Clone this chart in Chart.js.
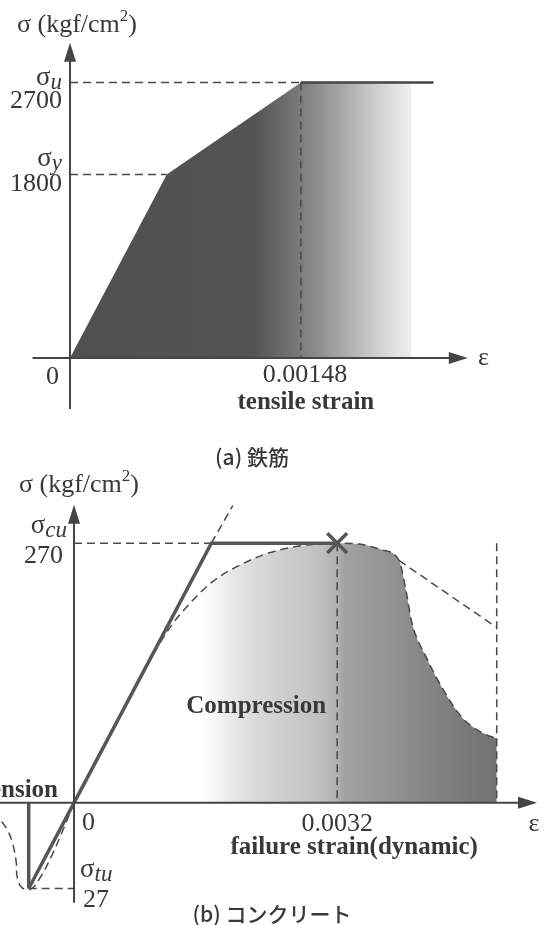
<!DOCTYPE html>
<html lang="ja">
<head>
<meta charset="utf-8">
<title>stress-strain</title>
<script src="https://cdn.jsdelivr.net/npm/chart.js@4.4.1/dist/chart.umd.min.js"></script>
<style>
  html, body { margin: 0; background: #fff; }
  .sheet { position: relative; width: 554px; height: 925px; overflow: hidden; }
  canvas { position: absolute; left: 0; }
  #steelChart { top: 0; }
  #concreteChart { top: 470px; }
</style>
</head>
<body>
<div class="sheet">
  <canvas id="steelChart" width="554" height="470"></canvas>
  <canvas id="concreteChart" width="554" height="455"></canvas>
</div>
<script>
// (a) 鉄筋
const steelStrain = [0, 0.00062, 0.00148, 0.00219];   // outline of shaded area
const steelStress = [0, 1800, 2700, 2700];
const steelPlateau = [0.00148, 0.00233];               // solid line at sigma_u
const steelYTicks = [2700, 1800];
const steelYSymbols = ['u', 'y'];
const steelXTick = 0.00148;

// (b) コンクリート
const concreteStrain = [0, 0.00167, 0.0032];           // bilinear model, compression side
const concreteStress = [0, 270, 270];
const dynamicStrain = [0, 0.000558, 0.000921, 0.001164, 0.001406, 0.001685, 0.002012, 0.002376, 0.002739, 0.0032,
  0.003467, 0.003745, 0.003952, 0.004036, 0.004109, 0.004279, 0.004473, 0.004715, 0.004958, 0.00514];
const dynamicStress = [0, 91, 148, 182, 207, 230, 247, 260, 267, 270,
  269, 263, 252, 221, 187, 152, 120, 89, 73, 67];
const softeningStrain = [0.003952, 0.005127];
const softeningStress = [252, 183];
const tangentStrain = [0.00167, 0.00193];
const tangentStress = [270, 309];
const failureStrain = 0.0032;
const limitStrain = 0.00514;
const tensionStrain = [0, -0.0000403, -0.0000809, -0.0001248, -0.0001579, -0.000191, -0.000209, -0.000213, -0.000228, -0.00025, -0.000279];
const tensionStress = [0, -8.5, -16.4, -23.6, -27.1, -26.8, -23.6, -18.6, -12.3, -7.9, -4.7];
const tensilePeakStrain = -0.000167;
const tensileStrength = 27;
const tensionScale = 3.3; // the figure draws the tension side enlarged

const SERIF = '"Liberation Serif", "Times New Roman", serif';
const CJK = '"Noto Sans CJK JP", sans-serif';
const INK = '#383838';
const AXIS = '#454545';
const DASH = '#4a4a4a';

const pts = (xs, ys, k = 1) => xs.map((x, i) => ({ x: x * k, y: ys[i] * k }));

function fontOf(p) {
  return `${p.italic ? 'italic ' : ''}${p.weight ? p.weight + ' ' : ''}${p.bold ? 'bold ' : ''}${p.size}px ${p.family || SERIF}`;
}

function drawText(c, x, y, parts, align = 'left') {
  if (typeof parts === 'string') parts = [{ t: parts, size: 26 }];
  c.save();
  c.fillStyle = INK;
  c.textBaseline = 'alphabetic';
  c.textAlign = 'left';
  let w = 0;
  parts.forEach(p => { c.font = fontOf(p); p.w = c.measureText(p.t).width; w += p.w; });
  let cx = align === 'right' ? x - w : align === 'center' ? x - w / 2 : x;
  parts.forEach(p => { c.font = fontOf(p); c.fillText(p.t, cx, y + (p.dy || 0)); cx += p.w; });
  c.restore();
}

const sigma = sub => [{ t: 'σ', size: 27 }, { t: sub, size: 23, italic: true, dy: 4 }];
const unitTitle = [{ t: 'σ (kgf/cm', size: 26 }, { t: '2', size: 17, dy: -11 }, { t: ')', size: 26 }];
const bold = t => [{ t, size: 25, bold: true }];
const caption = t => [{ t, size: 21, weight: 500, family: CJK }];

function drawAxes(chart, xr, yr) {
  const { ctx: c, scales: { x, y } } = chart;
  const x0 = x.getPixelForValue(0), y0 = y.getPixelForValue(0);
  const xa = x.getPixelForValue(xr[0]), xb = x.getPixelForValue(xr[1]);
  const ya = y.getPixelForValue(yr[0]), yb = y.getPixelForValue(yr[1]);
  c.save();
  c.strokeStyle = AXIS;
  c.fillStyle = AXIS;
  c.lineWidth = 2;
  c.beginPath();
  c.moveTo(xa, y0); c.lineTo(xb - 12, y0);
  c.moveTo(x0, ya); c.lineTo(x0, yb + 12);
  c.stroke();
  c.beginPath();
  c.moveTo(xb, y0); c.lineTo(xb - 19, y0 - 6); c.lineTo(xb - 19, y0 + 6); c.closePath();
  c.moveTo(x0, yb); c.lineTo(x0 - 6, yb + 19); c.lineTo(x0 + 6, yb + 19); c.closePath();
  c.fill();
  c.restore();
}

function dashed(data, extra = {}) {
  return Object.assign({
    data, borderColor: DASH, borderWidth: 1.5, borderDash: [8, 5],
    fill: false, pointRadius: 0, tension: 0, order: 5
  }, extra);
}

function baseOptions(pad, xr, yr) {
  return {
    responsive: false,
    animation: false,
    events: [],
    layout: { padding: pad, autoPadding: false },
    plugins: { legend: { display: false }, tooltip: { enabled: false } },
    scales: {
      x: { type: 'linear', min: xr[0], max: xr[1], display: false },
      y: { type: 'linear', min: yr[0], max: yr[1], display: false }
    },
    elements: { point: { radius: 0 }, line: { tension: 0 } }
  };
}

function gradient(chart, from, to, stops) {
  const x = chart.scales.x;
  const g = chart.ctx.createLinearGradient(x.getPixelForValue(from), 0, x.getPixelForValue(to), 0);
  stops.forEach(([f, col]) => g.addColorStop(f, col));
  return g;
}

// ---------- (a) steel ----------
const steelLabels = {
  id: 'steelLabels',
  afterDatasetsDraw(chart) { drawAxes(chart, [-0.00024, 0.00255], [-500, 3090]); },
  afterDraw(chart) {
    const { ctx: c, scales: { x, y } } = chart;
    const x0 = x.getPixelForValue(0), y0 = y.getPixelForValue(0);
    drawText(c, 17, 32, unitTitle);
    const offs = { 2700: [2, 25], 1800: [-8, 17] };
    steelYTicks.forEach((v, i) => {
      const py = y.getPixelForValue(v);
      drawText(c, x0 - 8, py + offs[v][0], sigma(steelYSymbols[i]), 'right');
      drawText(c, x0 - 8, py + offs[v][1], String(v), 'right');
    });
    drawText(c, x0 - 11, y0 + 26, '0', 'right');
    const px = x.getPixelForValue(steelXTick);
    drawText(c, px + 4, y0 + 24, String(steelXTick), 'center');
    drawText(c, px + 5, y0 + 51, bold('tensile strain'), 'center');
    drawText(c, 478, y0 + 7, 'ε');
    drawText(c, 252, 465, caption('(a) 鉄筋'), 'center');
  }
};

new Chart(document.getElementById('steelChart'), {
  type: 'line',
  data: {
    datasets: [
      {
        data: pts(steelStrain, steelStress),
        fill: 'origin',
        borderWidth: 0,
        borderColor: 'transparent',
        backgroundColor: ctx => ctx.chart.chartArea
          ? gradient(ctx.chart, 0, steelStrain[steelStrain.length - 1], [
              [0, '#505050'], [0.54, '#535353'], [0.66, '#767676'], [0.78, '#a2a2a2'],
              [0.89, '#cbcbcb'], [0.96, '#e4e4e4'], [1, '#efefef']])
          : '#505050',
        order: 10
      },
      {
        data: steelPlateau.map(s => ({ x: s, y: steelStress[2] })),
        borderColor: '#444', borderWidth: 2.5, order: 1
      },
      dashed([{ x: 0, y: steelStress[2] }, { x: steelStrain[2], y: steelStress[2] }]),
      dashed([{ x: 0, y: steelStress[1] }, { x: steelStrain[1], y: steelStress[1] }]),
      dashed([{ x: steelXTick, y: steelStress[2] }, { x: steelXTick, y: 0 }])
    ]
  },
  options: baseOptions({ left: 31, right: 16, top: 1, bottom: 10 }, [-0.00025, 0.003], [-1000, 3500]),
  plugins: [steelLabels]
});

// ---------- (b) concrete ----------
const tPeak = { x: tensilePeakStrain * tensionScale, y: -tensileStrength * tensionScale };

const concreteLabels = {
  id: 'concreteLabels',
  afterDatasetsDraw(chart) { drawAxes(chart, [-0.0009, 0.00563], [-104, 310]); },
  afterDraw(chart) {
    const { ctx: c, scales: { x, y } } = chart;
    const x0 = x.getPixelForValue(0), y0 = y.getPixelForValue(0);
    drawText(c, 19, 22, unitTitle);
    const pcu = y.getPixelForValue(concreteStress[2]);
    drawText(c, x0 - 7, pcu - 10, sigma('cu'), 'right');
    drawText(c, x0 - 11, pcu + 20, String(concreteStress[2]), 'right');
    drawText(c, x0 + 8, y0 + 27, '0');
    const ptu = y.getPixelForValue(tPeak.y);
    drawText(c, x0 + 6, ptu - 12, sigma('tu'));
    drawText(c, x0 + 9, ptu + 18, String(tensileStrength));
    const pf = x.getPixelForValue(failureStrain);
    drawText(c, pf, y0 + 28, String(failureStrain), 'center');
    drawText(c, pf + 17, y0 + 51, bold('failure strain(dynamic)'), 'center');
    drawText(c, 534, y0 + 28, 'ε', 'center');
    drawText(c, pf - 81, y0 - 90, bold('Compression'), 'center');
    drawText(c, x0 - 16, y0 - 6, bold('Tension'), 'right');
    drawText(c, 272, 452, caption('(b) コンクリート'), 'center');
  }
};

new Chart(document.getElementById('concreteChart'), {
  type: 'line',
  data: {
    datasets: [
      {
        data: [{ x: failureStrain, y: concreteStress[2] }],
        showLine: false,
        pointStyle: 'crossRot', pointRadius: 14, pointBorderWidth: 3.5,
        pointBorderColor: '#555', pointBackgroundColor: '#555', order: 0
      },
      {
        data: [tPeak].concat(pts(concreteStrain, concreteStress)),
        borderColor: '#565656', borderWidth: 3.5, borderJoinStyle: 'miter', order: 1
      },
      {
        data: [{ x: tPeak.x, y: 0 }, tPeak],
        borderColor: '#565656', borderWidth: 3.5, order: 1
      },
      dashed(pts(softeningStrain, softeningStress)),
      dashed(pts(tangentStrain, tangentStress)),
      dashed([{ x: 0, y: concreteStress[1] }, { x: concreteStrain[1], y: concreteStress[1] }]),
      dashed([{ x: failureStrain, y: concreteStress[2] }, { x: failureStrain, y: 0 }]),
      dashed([{ x: limitStrain, y: concreteStress[2] }, { x: limitStrain, y: 0 }]),
      dashed([tPeak, { x: 0, y: tPeak.y }]),
      dashed(pts(tensionStrain, tensionStress, tensionScale), { tension: 0.4 }),
      dashed(pts(dynamicStrain, dynamicStress), {
        fill: 'origin',
        cubicInterpolationMode: 'monotone',
        backgroundColor: ctx => ctx.chart.chartArea
          ? gradient(ctx.chart, 0, limitStrain, [
              [0, '#ffffff'], [0.3, '#ffffff'], [0.34, '#f4f4f4'], [0.4, '#e0e0e0'],
              [0.49, '#cfcfcf'], [0.58, '#c0c0c0'], [0.62, '#b3b3b3'], [0.64, '#a2a2a2'],
              [0.72, '#969696'], [0.82, '#888888'], [0.91, '#7c7c7c'], [1, '#727272']])
          : '#aaa',
        order: 10
      })
    ]
  },
  options: baseOptions({ left: 0, right: 3, top: 1, bottom: 1 }, [-0.0009, 0.0058], [-126, 345]),
  plugins: [concreteLabels]
});
</script>
</body>
</html>
